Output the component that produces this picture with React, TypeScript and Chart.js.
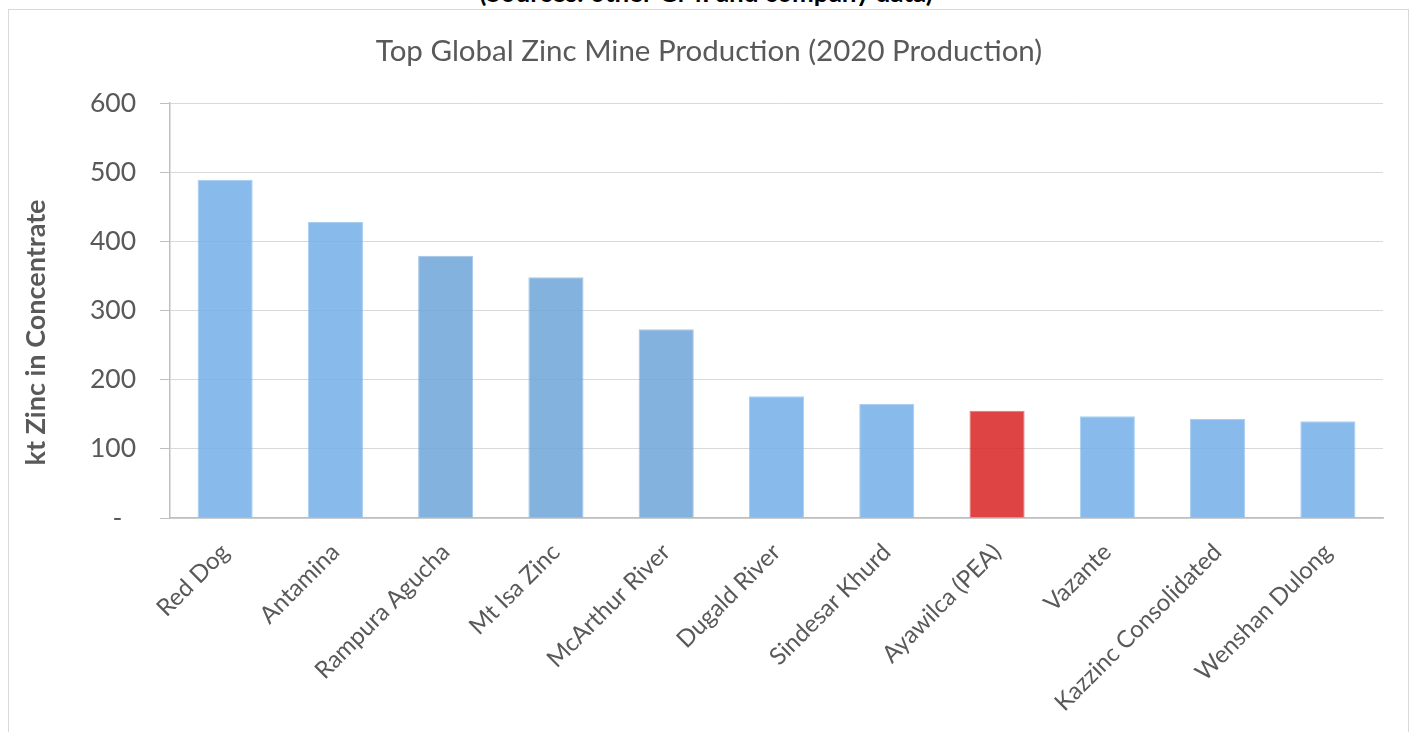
import React, { useEffect, useRef } from "react";
import { Chart, registerables } from "chart.js";

Chart.register(...registerables);

const mines = [
  "Red Dog",
  "Antamina",
  "Rampura Agucha",
  "Mt Isa Zinc",
  "McArthur River",
  "Dugald River",
  "Sindesar Khurd",
  "Ayawilca (PEA)",
  "Vazante",
  "Kazzinc Consolidated",
  "Wenshan Dulong",
];
const production = [489, 428, 379, 348, 273, 176, 165, 155, 147, 143, 140];
const barColors = [
  "rgba(115,175,231,0.85)",
  "rgba(115,175,231,0.85)",
  "rgba(109,164,216,0.85)",
  "rgba(109,164,216,0.85)",
  "rgba(109,164,216,0.85)",
  "rgba(115,175,231,0.85)",
  "rgba(115,175,231,0.85)",
  "rgba(216,35,35,0.85)",
  "rgba(115,175,231,0.85)",
  "rgba(115,175,231,0.85)",
  "rgba(115,175,231,0.85)",
];
const yTicks = [0, 100, 200, 300, 400, 500, 600];
const chartTitle = "Top Global Zinc Mine Production (2020 Production)";
const yTitle = "kt Zinc in Concentrate";
const sourceNote = "(Sources: other GMI and company data)";

const FONT = "Lato, 'Open Sans', sans-serif";
const GREY = "#595959";

// draws the y-axis title at Excel's position (slightly below the axis centre)
const yTitlePlugin = {
  id: "yTitlePlugin",
  afterDraw(chart: any) {
    const ctx = chart.ctx;
    const area = chart.chartArea;
    ctx.save();
    ctx.translate(36, (area.top + area.bottom) / 2 + 22);
    ctx.rotate(-Math.PI / 2);
    ctx.font = `bold 27px ${FONT}`;
    ctx.fillStyle = GREY;
    ctx.textAlign = "center";
    ctx.textBaseline = "middle";
    ctx.fillText(yTitle, 0, 0);
    ctx.restore();
  },
};

export default function App() {
  const ref = useRef<HTMLCanvasElement | null>(null);

  useEffect(() => {
    if (!ref.current) return;
    const chart = new Chart(ref.current, {
      type: "bar",
      data: {
        labels: mines,
        datasets: [
          {
            label: "kt Zinc",
            data: production,
            backgroundColor: barColors,
            borderColor: barColors.map((c) => c.replace("0.85", "0.6")),
            borderWidth: 1,
            barPercentage: 0.5,
            categoryPercentage: 1,
          },
        ],
      },
      plugins: [yTitlePlugin],
      options: {
        animation: false,
        responsive: false,
        maintainAspectRatio: false,
        layout: { padding: { left: 35, right: 29, top: 34, bottom: 0 } },
        plugins: {
          legend: { display: false },
          tooltip: { enabled: false },
          title: {
            display: true,
            text: chartTitle,
            color: GREY,
            font: { family: FONT, size: 29.5, weight: "normal" },
            padding: { top: 0, bottom: 33.6 },
          },
        },
        scales: {
          x: {
            grid: { display: false },
            border: { color: "#bfbfbf", width: 1.5 },
            ticks: {
              color: GREY,
              font: { family: FONT, size: 24 },
              maxRotation: 45,
              minRotation: 45,
              padding: 12,
              autoSkip: false,
            },
            afterFit: (s: any) => {
              s.height = 214;
            },
          },
          y: {
            min: 0,
            max: 600,
            afterBuildTicks: (s: any) => {
              s.ticks = yTicks.map((v) => ({ value: v }));
            },
            grid: { color: "#d9d9d9", tickColor: "#bfbfbf", tickLength: 10 },
            border: { color: "#bfbfbf", width: 1.5 },
            ticks: {
              color: GREY,
              font: { family: FONT, size: 26.5 },
              padding: 24,
              callback: (v: any) => (Number(v) === 0 ? "-  " : String(v)),
            },
            afterFit: (s: any) => {
              s.width = 135;
            },
          },
        },
      },
    });
    return () => chart.destroy();
  }, []);

  return (
    <div style={{ position: "fixed", left: 0, top: 0, width: 1412, height: 732, overflow: "hidden", background: "#fff" }}>
      <div
        style={{
          position: "absolute",
          left: 0,
          right: 0,
          top: -21,
          textAlign: "center",
          fontFamily: FONT,
          fontWeight: "bold",
          fontSize: 26,
          lineHeight: "26px",
          color: "#000",
          paddingLeft: 0,
        }}
      >
        {sourceNote}
      </div>
      <div
        style={{
          position: "absolute",
          left: 8,
          top: 9,
          width: 1401,
          height: 760,
          border: "1px solid #d9d9d9",
          boxSizing: "border-box",
        }}
      />
      <canvas ref={ref} width={1412} height={732} style={{ position: "absolute", left: 0, top: 0, width: 1412, height: 732 }} />
    </div>
  );
}
